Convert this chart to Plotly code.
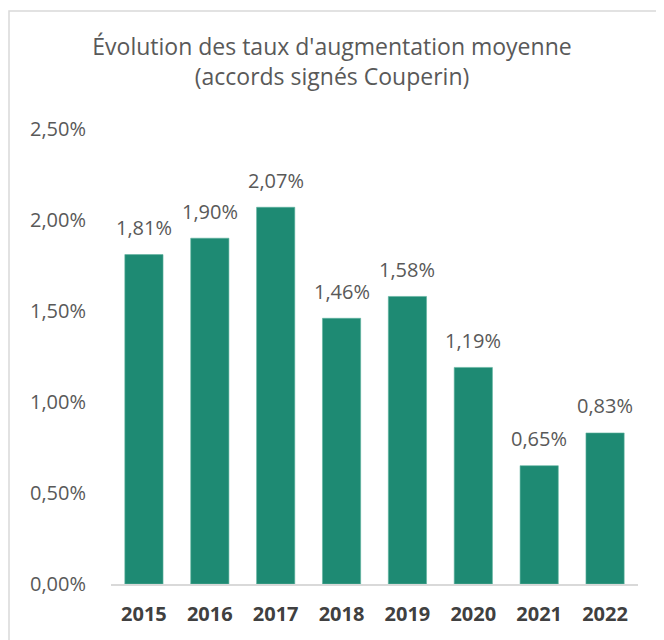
import plotly.graph_objects as go

years = ["2015", "2016", "2017", "2018", "2019", "2020", "2021", "2022"]
rates = [0.0181, 0.0190, 0.0207, 0.0146, 0.0158, 0.0119, 0.0065, 0.0083]
y_ticks = [0, 0.005, 0.01, 0.015, 0.02, 0.025]

FONT = "Open Sans"
GRAY = "#595959"

fig = go.Figure(go.Bar(
    x=years, y=rates,
    marker=dict(color="#1e8a73", line=dict(color="#5fb3a0", width=0.6)),
    hoverinfo="skip",
))

labels = [f"{v * 100:.2f}%".replace(".", ",") for v in rates]
# category axis: annotation x given as category index
annotations = [
    dict(x=i, y=v, xref="x", yref="y", text=t, showarrow=False,
         yanchor="middle", yshift=27,
         font=dict(family=FONT, size=20, color=GRAY))
    for i, (v, t) in enumerate(zip(rates, labels))
]

fig.update_layout(
    width=664, height=640,
    margin=dict(l=103, r=34, t=121, b=64),
    paper_bgcolor="white", plot_bgcolor="white",
    separators=", ",
    showlegend=False,
    bargap=0.42,
    title=dict(
        text="Évolution des taux d'augmentation moyenne<br>(accords signés Couperin)",
        x=(332 - 8) / 664, xref="container", xanchor="center",
        y=1 - 47 / 640, yref="container", yanchor="top",
        font=dict(family=FONT, size=23, color=GRAY),
    ),
    annotations=annotations,
    xaxis=dict(
        type="category",
        showline=True, linecolor="#d9d9d9", linewidth=2,
        ticks="", showgrid=False,
        tickfont=dict(family=FONT, size=20, color="#404040", weight="bold"),
        ticklabelstandoff=11,
    ),
    yaxis=dict(
        range=[0, 0.025], tickvals=y_ticks, tickformat=".2%",
        showgrid=False, zeroline=False, showline=False, ticks="",
        tickfont=dict(family=FONT, size=20, color=GRAY),
        ticklabelstandoff=24,
    ),
    shapes=[dict(
        type="rect", xref="paper", yref="paper",
        x0=-102 / 527, x1=1.1, y0=-0.2, y1=573 / 455,
        line=dict(color="#d9d9d9", width=1.5), fillcolor="rgba(0,0,0,0)",
        layer="below",
    )],
)

fig.write_html("out.html")
